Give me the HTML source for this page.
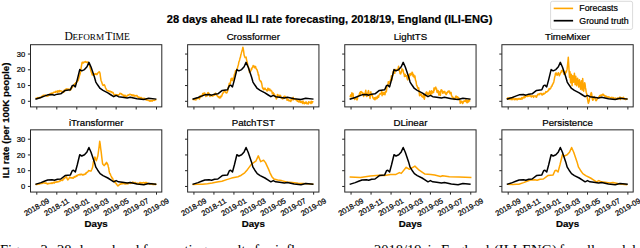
<!DOCTYPE html>
<html><head><meta charset="utf-8"><style>
html,body{margin:0;padding:0;background:#fff;width:640px;height:248px;overflow:hidden}
svg{display:block}
text{font-family:"Liberation Sans",sans-serif;fill:#000;stroke:#000;stroke-width:0.22px}
.tk{font-size:7.6px}
.t{font-size:9.7px}
.st{font-family:"Liberation Serif",serif;font-size:11.6px;stroke:none}
.al{font-size:9.7px;font-weight:bold}
.mt{font-size:11.1px;font-weight:bold}
.lg{font-size:8.8px}
.cap{font-family:"Liberation Serif",serif;font-size:14.5px;stroke:none}
</style></head><body>
<svg width="640" height="248" viewBox="0 0 640 248">
<clipPath id="c0"><rect x="30.50" y="44.70" width="131.3" height="62.2"/></clipPath>
<g clip-path="url(#c0)">
<polyline points="36.30,98.20 36.67,98.15 37.03,98.47 37.40,97.62 37.77,98.21 38.13,97.69 38.50,97.61 38.87,98.28 39.23,97.59 39.60,97.43 39.97,97.62 40.33,97.68 40.70,97.20 41.05,97.02 41.40,97.06 41.75,96.34 42.10,96.38 42.45,96.18 42.80,95.70 43.15,95.46 43.50,95.25 43.85,95.56 44.20,95.41 44.55,95.30 44.92,95.29 45.29,95.52 45.67,95.13 46.04,95.67 46.41,95.88 46.78,96.16 47.16,95.70 47.53,95.96 47.90,96.20 48.28,95.17 48.66,95.38 49.03,94.46 49.41,94.41 49.79,94.97 50.17,93.50 50.54,94.22 50.92,93.74 51.30,93.30 51.68,93.08 52.05,93.25 52.43,93.16 52.81,93.24 53.18,92.68 53.56,92.45 53.94,92.33 54.32,92.09 54.69,92.32 55.07,91.95 55.45,92.49 55.82,91.35 56.20,91.90 56.57,91.44 56.94,91.41 57.31,90.94 57.68,92.26 58.05,90.67 58.42,91.34 58.78,91.18 59.15,91.86 59.52,90.51 59.89,91.51 60.26,90.80 60.63,90.92 61.00,90.90 61.40,90.97 61.80,91.72 62.20,91.40 62.60,92.07 63.00,92.40 63.37,92.12 63.73,92.24 64.10,90.36 64.47,91.33 64.83,90.73 65.20,89.83 65.57,89.71 65.93,89.04 66.30,88.80 66.70,89.46 67.10,89.03 67.50,88.96 67.90,89.04 68.30,89.20 68.70,89.25 69.10,89.37 69.50,89.24 69.90,90.39 70.30,89.11 70.70,89.90 71.06,88.04 71.43,88.66 71.79,88.05 72.15,87.63 72.51,86.83 72.88,86.25 73.24,85.82 73.60,85.10 73.96,85.08 74.33,84.22 74.69,83.88 75.05,84.33 75.41,83.47 75.78,82.58 76.14,83.38 76.50,82.20 76.86,82.07 77.22,81.19 77.58,80.59 77.94,80.70 78.30,80.20 78.68,78.59 79.06,77.19 79.44,75.79 79.82,74.74 80.20,73.60 80.70,70.84 81.20,67.30 81.65,64.75 82.10,62.50 82.60,62.24 83.10,63.00 83.60,62.73 84.10,62.00 84.57,61.86 85.03,61.96 85.50,61.50 85.88,62.17 86.25,61.94 86.62,62.20 87.00,62.50 87.45,62.23 87.90,62.00 88.28,62.33 88.65,63.68 89.03,64.66 89.40,64.90 89.87,66.89 90.33,68.68 90.80,70.70 91.17,71.71 91.55,72.63 91.92,73.72 92.30,75.10 92.70,74.79 93.10,74.47 93.50,74.45 93.90,73.88 94.30,74.39 94.70,74.10 95.09,74.22 95.48,73.90 95.87,73.60 96.26,74.50 96.65,74.60 97.06,74.50 97.47,73.38 97.88,72.98 98.28,72.47 98.69,72.41 99.10,71.70 99.55,72.13 100.00,73.20 100.50,77.05 101.00,80.20 101.50,81.49 102.00,83.00 102.50,84.57 103.00,85.50 103.35,85.39 103.70,85.17 104.05,84.61 104.40,85.00 104.76,85.61 105.12,86.61 105.49,87.78 105.85,88.40 106.32,89.44 106.80,90.30 107.16,90.18 107.53,90.69 107.89,91.02 108.25,90.75 108.61,90.77 108.97,90.91 109.34,91.46 109.70,91.30 110.08,91.64 110.46,91.29 110.83,91.90 111.21,91.75 111.59,91.81 111.97,92.67 112.34,92.68 112.72,92.29 113.10,92.70 113.47,93.45 113.85,94.33 114.22,94.65 114.60,95.60 114.98,95.38 115.36,95.47 115.74,94.43 116.12,94.99 116.50,94.70 116.88,95.14 117.26,95.24 117.64,94.77 118.02,95.53 118.40,95.60 118.78,94.72 119.15,94.65 119.53,94.09 119.90,93.30 120.26,93.56 120.62,93.41 120.99,93.66 121.35,94.35 121.71,93.92 122.08,94.60 122.44,94.79 122.80,94.80 123.18,94.91 123.56,96.06 123.93,95.46 124.31,96.40 124.69,95.15 125.07,95.28 125.44,96.62 125.82,96.71 126.20,96.70 126.57,96.32 126.94,96.15 127.32,95.23 127.69,95.41 128.06,95.00 128.43,95.02 128.81,95.14 129.18,94.59 129.55,94.30 129.92,94.56 130.29,94.31 130.66,94.52 131.03,94.84 131.39,94.83 131.76,95.49 132.13,94.87 132.50,95.30 132.88,96.01 133.26,95.05 133.64,95.81 134.02,95.21 134.40,96.10 134.78,95.62 135.16,95.75 135.54,95.92 135.92,95.48 136.30,95.75 136.66,95.63 137.03,95.53 137.39,96.91 137.75,96.48 138.11,96.76 138.47,97.20 138.84,98.15 139.20,97.70 139.58,97.17 139.95,97.94 140.33,97.79 140.71,98.19 141.08,97.45 141.46,98.02 141.84,98.53 142.22,98.86 142.59,98.95 142.97,98.17 143.35,98.57 143.72,98.58 144.10,98.70 144.47,98.36 144.84,98.49 145.21,99.40 145.58,99.37 145.95,99.38 146.32,100.00 146.68,99.37 147.05,100.05 147.42,100.02 147.79,100.14 148.16,100.48 148.53,100.52 148.90,100.60 149.25,100.69 149.61,100.69 149.96,101.28 150.32,100.49 150.67,100.95 151.03,100.81 151.38,100.48 151.74,100.88 152.09,100.30 152.45,101.01 152.80,100.60 153.16,100.19 153.53,100.18 153.89,100.34 154.25,100.39 154.61,100.29 154.97,100.16 155.34,99.65 155.70,99.60" fill="none" stroke="#ffa500" stroke-width="1.5" stroke-linejoin="round" stroke-linecap="square"/>
<polyline points="36.09,99.02 40.93,97.45 44.33,96.15 47.73,94.85 52.03,94.55 54.48,95.15 57.38,94.15 60.73,93.85 65.13,90.45 70.43,89.75 72.23,85.65 73.53,85.15 75.33,86.85 77.23,79.85 79.73,69.60 81.73,70.85 84.48,69.60 86.98,66.75 88.93,62.35 91.03,67.05 94.33,76.75 95.83,82.05 97.73,85.05 100.13,88.45 103.03,90.40 107.83,92.85 110.73,94.75 113.73,96.65 116.13,95.45 118.53,96.65 122.43,97.15 127.23,97.95 130.23,97.35 137.03,98.85 143.83,99.50 148.63,98.35 155.63,99.05" fill="none" stroke="#000000" stroke-width="1.5" stroke-linejoin="round" stroke-linecap="square"/>
</g>
<rect x="30.50" y="44.70" width="131.3" height="62.2" fill="none" stroke="#262626" stroke-width="1.0"/>
<line x1="27.90" y1="101.30" x2="30.50" y2="101.30" stroke="#262626" stroke-width="1"/>
<text x="25.30" y="103.90" class="tk" text-anchor="end">0</text>
<line x1="27.90" y1="85.55" x2="30.50" y2="85.55" stroke="#262626" stroke-width="1"/>
<text x="25.30" y="88.15" class="tk" text-anchor="end">10</text>
<line x1="27.90" y1="69.80" x2="30.50" y2="69.80" stroke="#262626" stroke-width="1"/>
<text x="25.30" y="72.40" class="tk" text-anchor="end">20</text>
<line x1="27.90" y1="54.05" x2="30.50" y2="54.05" stroke="#262626" stroke-width="1"/>
<text x="25.30" y="56.65" class="tk" text-anchor="end">30</text>
<line x1="36.80" y1="106.90" x2="36.80" y2="109.50" stroke="#262626" stroke-width="1"/>
<line x1="56.80" y1="106.90" x2="56.80" y2="109.50" stroke="#262626" stroke-width="1"/>
<line x1="76.80" y1="106.90" x2="76.80" y2="109.50" stroke="#262626" stroke-width="1"/>
<line x1="96.15" y1="106.90" x2="96.15" y2="109.50" stroke="#262626" stroke-width="1"/>
<line x1="116.15" y1="106.90" x2="116.15" y2="109.50" stroke="#262626" stroke-width="1"/>
<line x1="136.20" y1="106.90" x2="136.20" y2="109.50" stroke="#262626" stroke-width="1"/>
<line x1="156.50" y1="106.90" x2="156.50" y2="109.50" stroke="#262626" stroke-width="1"/>
<text y="39.8" class="st"><tspan x="64.4">D</tspan><tspan x="72.5" font-size="9.2">EFORM</tspan><tspan x="105.2">T</tspan><tspan x="112.4" font-size="9.5">IME</tspan></text>
<clipPath id="c1"><rect x="187.63" y="44.70" width="131.3" height="62.2"/></clipPath>
<g clip-path="url(#c1)">
<polyline points="193.30,99.40 193.67,99.36 194.03,99.60 194.40,98.83 194.77,99.36 195.13,99.72 195.50,99.26 195.87,100.05 196.23,98.14 196.60,98.78 196.97,98.12 197.33,97.99 197.70,98.50 198.05,98.13 198.40,98.21 198.75,98.13 199.10,97.97 199.45,99.04 199.80,97.78 200.15,95.71 200.50,96.84 200.85,95.99 201.20,95.84 201.55,96.00 201.92,96.66 202.29,95.19 202.67,93.57 203.04,94.94 203.41,94.17 203.78,93.19 204.16,93.05 204.53,92.95 204.90,93.10 205.40,94.78 205.90,96.50 206.30,95.53 206.70,95.25 207.10,95.93 207.50,93.30 207.90,92.64 208.30,92.60 208.70,93.09 209.10,94.78 209.50,94.11 209.90,96.40 210.30,96.00 210.66,94.96 211.03,95.11 211.39,95.79 211.75,95.13 212.11,95.25 212.47,96.00 212.84,96.15 213.20,95.55 213.60,95.23 214.00,94.53 214.40,95.33 214.80,94.22 215.20,93.33 215.60,93.10 216.07,94.83 216.53,94.06 217.00,95.55 217.36,96.02 217.71,96.74 218.07,96.59 218.43,96.52 218.79,97.56 219.14,97.24 219.50,98.00 219.88,97.15 220.26,96.43 220.64,97.78 221.02,95.99 221.40,96.00 221.78,96.11 222.16,94.77 222.54,93.52 222.92,93.46 223.30,92.20 223.68,92.15 224.05,91.80 224.43,90.42 224.80,91.20 225.18,91.53 225.56,92.43 225.94,92.41 226.32,93.07 226.70,92.60 227.07,92.65 227.43,90.77 227.80,90.88 228.17,87.20 228.53,87.09 228.90,86.20 229.26,83.31 229.62,84.82 229.99,83.27 230.35,83.47 230.71,80.93 231.07,78.68 231.44,80.16 231.80,78.20 232.30,78.44 232.80,80.70 233.18,78.37 233.56,77.81 233.94,77.03 234.32,74.80 234.70,73.80 235.08,73.17 235.47,70.86 235.85,72.80 236.23,70.68 236.62,70.06 237.00,69.20 237.38,68.39 237.75,66.83 238.12,65.60 238.50,64.20 238.88,61.98 239.25,61.07 239.62,59.95 240.00,58.10 240.40,57.38 240.80,55.01 241.20,53.67 241.60,52.10 242.03,50.72 242.47,49.26 242.90,47.20 243.60,51.00 244.10,55.10 244.60,56.51 245.10,57.60 245.60,57.16 246.10,57.10 246.60,60.10 247.10,61.77 247.60,64.20 247.97,66.29 248.35,66.92 248.72,67.97 249.10,69.20 249.47,72.31 249.85,70.86 250.22,71.34 250.60,71.20 250.96,70.51 251.31,68.84 251.67,69.65 252.03,67.93 252.39,67.24 252.74,67.17 253.10,65.60 253.45,66.53 253.80,66.11 254.15,66.11 254.50,67.84 254.85,66.86 255.20,66.60 255.60,66.55 256.00,68.60 256.40,68.87 256.80,69.50 257.20,70.20 257.57,71.84 257.95,72.63 258.32,75.08 258.70,74.70 259.40,79.60 259.76,80.13 260.12,80.54 260.49,81.60 260.85,81.10 261.32,82.13 261.80,84.00 262.30,86.96 262.80,88.40 263.18,88.53 263.56,89.65 263.94,88.30 264.32,89.43 264.70,89.30 265.10,88.20 265.50,89.17 265.90,89.61 266.30,90.07 266.70,89.80 267.08,91.08 267.46,90.78 267.84,88.20 268.22,88.43 268.60,88.80 268.98,90.14 269.36,89.93 269.74,88.98 270.12,90.76 270.50,90.80 270.86,90.21 271.21,90.67 271.57,90.63 271.93,91.63 272.29,93.77 272.64,92.63 273.00,92.60 273.36,93.02 273.73,95.48 274.09,93.75 274.45,94.60 274.84,95.35 275.23,96.12 275.62,97.50 276.01,97.81 276.40,98.90 276.90,97.84 277.40,94.60 277.80,94.70 278.20,95.65 278.60,95.72 279.00,95.22 279.40,95.45 279.80,96.50 280.16,96.76 280.52,95.38 280.89,97.41 281.25,97.76 281.61,98.11 281.98,98.24 282.34,98.87 282.70,98.90 283.10,98.24 283.50,98.58 283.90,96.48 284.30,97.98 284.70,96.24 285.10,96.50 285.50,97.43 285.90,97.29 286.30,97.88 286.70,98.17 287.10,100.34 287.50,99.90 287.86,99.27 288.23,99.37 288.59,100.63 288.95,100.85 289.31,100.87 289.68,100.30 290.04,100.73 290.40,101.40 290.80,101.51 291.20,99.50 291.60,100.16 292.00,99.68 292.40,98.67 292.80,98.00 293.18,97.30 293.56,99.85 293.93,98.73 294.31,98.99 294.69,98.78 295.07,98.56 295.44,99.28 295.82,99.84 296.20,99.90 296.55,99.44 296.91,100.33 297.26,101.28 297.62,100.92 297.97,100.69 298.33,101.72 298.68,101.80 299.04,101.96 299.39,100.86 299.75,100.27 300.10,101.80 300.45,102.44 300.81,101.94 301.16,101.66 301.52,102.35 301.87,101.69 302.23,101.61 302.58,103.47 302.94,100.98 303.29,102.84 303.65,103.01 304.00,102.30 304.36,103.81 304.73,102.87 305.09,103.24 305.45,102.37 305.81,103.26 306.18,101.86 306.54,103.19 306.90,103.80 307.26,103.59 307.62,103.35 307.99,102.88 308.35,103.92 308.71,101.68 309.07,102.78 309.44,102.19 309.80,102.30 310.16,102.27 310.52,102.22 310.89,103.57 311.25,101.25 311.61,102.99 311.98,102.97 312.34,101.77 312.70,101.80" fill="none" stroke="#ffa500" stroke-width="1.5" stroke-linejoin="round" stroke-linecap="square"/>
<polyline points="193.22,99.02 198.06,97.45 201.46,96.15 204.86,94.85 209.16,94.55 211.61,95.15 214.51,94.15 217.86,93.85 222.26,90.45 227.56,89.75 229.36,85.65 230.66,85.15 232.46,86.85 234.36,79.85 236.86,69.60 238.86,70.85 241.61,69.60 244.11,66.75 246.06,62.35 248.16,67.05 251.46,76.75 252.96,82.05 254.86,85.05 257.26,88.45 260.16,90.40 264.96,92.85 267.86,94.75 270.86,96.65 273.26,95.45 275.66,96.65 279.56,97.15 284.36,97.95 287.36,97.35 294.16,98.85 300.96,99.50 305.76,98.35 312.76,99.05" fill="none" stroke="#000000" stroke-width="1.5" stroke-linejoin="round" stroke-linecap="square"/>
</g>
<rect x="187.63" y="44.70" width="131.3" height="62.2" fill="none" stroke="#262626" stroke-width="1.0"/>
<line x1="185.03" y1="101.30" x2="187.63" y2="101.30" stroke="#262626" stroke-width="1"/>
<line x1="185.03" y1="85.55" x2="187.63" y2="85.55" stroke="#262626" stroke-width="1"/>
<line x1="185.03" y1="69.80" x2="187.63" y2="69.80" stroke="#262626" stroke-width="1"/>
<line x1="185.03" y1="54.05" x2="187.63" y2="54.05" stroke="#262626" stroke-width="1"/>
<line x1="193.93" y1="106.90" x2="193.93" y2="109.50" stroke="#262626" stroke-width="1"/>
<line x1="213.93" y1="106.90" x2="213.93" y2="109.50" stroke="#262626" stroke-width="1"/>
<line x1="233.93" y1="106.90" x2="233.93" y2="109.50" stroke="#262626" stroke-width="1"/>
<line x1="253.28" y1="106.90" x2="253.28" y2="109.50" stroke="#262626" stroke-width="1"/>
<line x1="273.28" y1="106.90" x2="273.28" y2="109.50" stroke="#262626" stroke-width="1"/>
<line x1="293.33" y1="106.90" x2="293.33" y2="109.50" stroke="#262626" stroke-width="1"/>
<line x1="313.63" y1="106.90" x2="313.63" y2="109.50" stroke="#262626" stroke-width="1"/>
<text x="253.28" y="40.40" class="t" text-anchor="middle">Crossformer</text>
<clipPath id="c2"><rect x="344.76" y="44.70" width="131.3" height="62.2"/></clipPath>
<g clip-path="url(#c2)">
<polyline points="350.29,96.50 350.69,94.84 351.09,94.68 351.49,96.77 351.89,92.87 352.29,95.55 352.67,95.76 353.05,93.51 353.43,98.10 353.81,97.36 354.19,97.50 354.57,99.48 354.95,97.43 355.33,98.84 355.71,98.26 356.09,98.90 356.59,98.48 357.09,99.90 357.46,98.99 357.84,96.15 358.21,96.19 358.59,95.55 358.97,95.65 359.35,94.08 359.73,92.73 360.11,95.21 360.49,91.70 360.87,92.05 361.25,91.53 361.63,92.74 362.01,92.17 362.39,93.10 362.79,92.92 363.19,93.26 363.59,96.53 363.99,94.33 364.39,94.60 364.86,93.35 365.32,92.51 365.79,90.20 366.29,95.87 366.79,96.50 367.14,94.90 367.49,93.07 367.84,95.62 368.19,91.20 368.56,90.58 368.94,93.14 369.31,95.63 369.69,96.00 370.07,98.47 370.45,94.05 370.83,91.83 371.21,95.31 371.59,94.10 371.99,94.41 372.39,95.54 372.79,97.56 373.19,98.22 373.59,98.90 373.97,98.98 374.35,97.80 374.73,99.67 375.11,99.66 375.49,97.50 375.87,97.64 376.25,97.14 376.63,98.72 377.01,98.50 377.39,98.00 377.79,96.02 378.19,96.06 378.59,97.27 378.99,95.16 379.39,94.60 379.77,93.89 380.15,94.27 380.53,93.66 380.91,93.40 381.29,93.10 381.69,90.89 382.09,95.69 382.49,93.95 382.89,93.90 383.24,92.47 383.59,94.45 383.94,93.27 384.29,92.57 384.64,93.52 384.99,94.70 385.34,92.23 385.69,91.20 386.06,91.98 386.42,91.50 386.79,87.60 387.17,85.36 387.55,85.03 387.93,85.69 388.31,81.63 388.69,82.80 389.07,81.89 389.45,83.26 389.83,82.36 390.21,81.20 390.59,79.90 391.09,79.00 391.45,75.69 391.80,80.05 392.16,76.86 392.52,76.19 392.88,74.90 393.23,71.20 393.59,72.40 393.97,70.13 394.35,69.92 394.73,73.36 395.11,69.44 395.49,70.00 395.87,69.60 396.25,69.48 396.63,70.41 397.01,70.23 397.39,69.50 397.79,70.03 398.19,68.32 398.59,66.18 398.99,70.51 399.39,70.50 399.74,71.68 400.09,73.74 400.44,72.92 400.79,73.90 401.16,72.04 401.54,72.21 401.91,68.66 402.29,69.50 402.76,69.50 403.22,70.84 403.69,73.40 404.06,74.01 404.44,76.51 404.81,75.10 405.19,74.40 405.66,76.29 406.12,75.63 406.59,75.80 407.09,78.20 407.59,79.90 407.94,78.84 408.29,78.55 408.64,75.36 408.99,77.90 409.37,75.27 409.74,74.04 410.12,75.57 410.49,73.40 410.87,74.03 411.25,74.43 411.63,74.75 412.01,72.22 412.39,72.40 412.76,74.44 413.14,76.29 413.51,74.56 413.89,75.30 414.24,77.58 414.59,76.94 414.94,76.06 415.29,79.00 415.66,80.83 416.04,81.32 416.41,84.16 416.79,85.70 417.26,86.09 417.72,88.03 418.19,88.60 418.69,87.88 419.19,92.50 419.56,95.71 419.94,95.40 420.31,93.86 420.69,94.90 421.07,94.04 421.45,95.46 421.83,96.58 422.21,96.55 422.59,96.30 422.94,97.30 423.29,94.84 423.64,96.39 423.99,98.30 424.37,99.25 424.74,97.15 425.12,94.22 425.49,95.40 425.87,93.59 426.24,92.14 426.62,91.95 426.99,92.50 427.49,94.50 427.99,93.55 428.39,93.11 428.79,94.65 429.19,93.31 429.59,91.02 429.99,91.94 430.39,92.60 430.79,95.34 431.19,91.30 431.59,90.77 431.99,93.50 432.39,91.88 432.79,91.60 433.19,91.11 433.59,92.51 433.99,87.92 434.39,90.21 434.79,89.20 435.26,87.69 435.72,87.08 436.19,88.70 436.56,88.64 436.94,92.12 437.31,91.45 437.69,92.60 438.07,90.45 438.45,91.57 438.83,95.12 439.21,94.67 439.59,93.55 439.99,91.60 440.39,95.53 440.79,91.41 441.19,89.79 441.59,90.58 441.99,90.20 442.39,91.88 442.79,93.22 443.19,92.95 443.59,91.57 443.99,92.60 444.39,92.20 444.79,91.37 445.19,93.46 445.59,93.10 445.99,94.50 446.39,94.50 446.79,92.48 447.19,93.04 447.59,92.17 447.99,91.36 448.39,90.99 448.79,92.10 449.17,91.09 449.55,91.17 449.93,93.70 450.31,93.39 450.69,93.55 451.09,92.53 451.49,95.55 451.89,95.93 452.29,98.10 452.69,96.90 453.04,97.28 453.39,97.88 453.74,97.89 454.09,99.40 454.49,98.88 454.89,98.67 455.29,97.58 455.69,96.36 456.09,96.00 456.47,97.20 456.85,97.08 457.23,97.76 457.61,96.73 457.99,98.40 458.37,99.04 458.75,97.89 459.13,98.46 459.51,100.13 459.89,100.30 460.29,103.29 460.69,102.17 461.09,101.21 461.49,101.27 461.89,101.80 462.25,103.00 462.62,103.44 462.98,103.17 463.34,101.31 463.70,101.73 464.06,101.00 464.43,101.00 464.79,101.30 465.17,100.41 465.55,101.38 465.93,99.15 466.31,100.57 466.69,102.30 467.05,102.66 467.41,100.74 467.78,102.43 468.14,99.90 468.50,100.89 468.87,101.68 469.23,99.66 469.59,100.80" fill="none" stroke="#ffa500" stroke-width="1.5" stroke-linejoin="round" stroke-linecap="square"/>
<polyline points="350.35,99.02 355.19,97.45 358.59,96.15 361.99,94.85 366.29,94.55 368.74,95.15 371.64,94.15 374.99,93.85 379.39,90.45 384.69,89.75 386.49,85.65 387.79,85.15 389.59,86.85 391.49,79.85 393.99,69.60 395.99,70.85 398.74,69.60 401.24,66.75 403.19,62.35 405.29,67.05 408.59,76.75 410.09,82.05 411.99,85.05 414.39,88.45 417.29,90.40 422.09,92.85 424.99,94.75 427.99,96.65 430.39,95.45 432.79,96.65 436.69,97.15 441.49,97.95 444.49,97.35 451.29,98.85 458.09,99.50 462.89,98.35 469.89,99.05" fill="none" stroke="#000000" stroke-width="1.5" stroke-linejoin="round" stroke-linecap="square"/>
</g>
<rect x="344.76" y="44.70" width="131.3" height="62.2" fill="none" stroke="#262626" stroke-width="1.0"/>
<line x1="342.16" y1="101.30" x2="344.76" y2="101.30" stroke="#262626" stroke-width="1"/>
<line x1="342.16" y1="85.55" x2="344.76" y2="85.55" stroke="#262626" stroke-width="1"/>
<line x1="342.16" y1="69.80" x2="344.76" y2="69.80" stroke="#262626" stroke-width="1"/>
<line x1="342.16" y1="54.05" x2="344.76" y2="54.05" stroke="#262626" stroke-width="1"/>
<line x1="351.06" y1="106.90" x2="351.06" y2="109.50" stroke="#262626" stroke-width="1"/>
<line x1="371.06" y1="106.90" x2="371.06" y2="109.50" stroke="#262626" stroke-width="1"/>
<line x1="391.06" y1="106.90" x2="391.06" y2="109.50" stroke="#262626" stroke-width="1"/>
<line x1="410.41" y1="106.90" x2="410.41" y2="109.50" stroke="#262626" stroke-width="1"/>
<line x1="430.41" y1="106.90" x2="430.41" y2="109.50" stroke="#262626" stroke-width="1"/>
<line x1="450.46" y1="106.90" x2="450.46" y2="109.50" stroke="#262626" stroke-width="1"/>
<line x1="470.76" y1="106.90" x2="470.76" y2="109.50" stroke="#262626" stroke-width="1"/>
<text x="410.41" y="40.40" class="t" text-anchor="middle">LightTS</text>
<clipPath id="c3"><rect x="501.89" y="44.70" width="131.3" height="62.2"/></clipPath>
<g clip-path="url(#c3)">
<polyline points="507.29,98.50 507.66,98.78 508.02,97.67 508.39,98.21 508.76,98.67 509.12,99.40 509.49,98.70 509.86,97.90 510.22,98.92 510.59,98.20 510.96,99.45 511.32,98.74 511.69,98.90 512.06,99.81 512.43,98.88 512.80,98.46 513.17,98.26 513.54,98.83 513.91,99.26 514.27,99.66 514.64,99.22 515.01,98.74 515.38,99.38 515.75,98.44 516.12,99.43 516.49,99.20 516.84,98.77 517.19,99.85 517.54,99.55 517.89,99.18 518.24,98.44 518.59,99.18 518.94,99.03 519.29,98.53 519.64,98.44 519.99,99.34 520.34,98.45 520.69,98.82 521.04,99.25 521.39,98.50 521.77,97.61 522.15,99.09 522.53,98.56 522.91,97.58 523.29,97.27 523.67,96.99 524.05,97.92 524.43,96.01 524.81,97.62 525.19,97.00 525.55,96.90 525.91,96.30 526.28,96.20 526.64,96.09 527.00,95.98 527.37,96.36 527.73,95.31 528.09,95.55 528.45,96.15 528.81,96.16 529.18,95.59 529.54,96.08 529.90,95.56 530.26,95.92 530.63,96.19 530.99,96.00 531.35,97.03 531.72,96.10 532.08,96.11 532.44,96.27 532.80,96.22 533.16,95.84 533.53,97.38 533.89,96.50 534.29,96.09 534.69,96.01 535.09,95.84 535.49,96.45 535.89,96.00 536.25,97.25 536.62,97.04 536.98,95.78 537.34,95.22 537.70,94.80 538.06,94.07 538.43,94.71 538.79,94.10 539.19,93.82 539.59,94.68 539.99,93.40 540.37,93.56 540.75,93.50 541.13,93.38 541.51,93.71 541.89,94.90 542.25,95.02 542.62,94.70 542.98,93.76 543.34,93.38 543.70,94.10 544.06,93.60 544.43,93.70 544.79,93.40 545.15,93.09 545.51,92.41 545.88,91.63 546.24,92.27 546.60,91.95 546.97,91.69 547.33,91.78 547.69,91.00 548.05,91.10 548.41,90.03 548.78,90.21 549.14,88.46 549.50,89.53 549.87,88.81 550.23,88.98 550.59,88.10 550.96,87.94 551.33,86.30 551.70,86.05 552.06,86.01 552.43,84.51 552.80,84.16 553.17,83.16 553.54,82.80 553.90,81.40 554.26,79.55 554.63,77.28 554.99,76.00 555.49,73.30 555.87,72.96 556.25,72.94 556.63,74.87 557.01,74.59 557.39,75.20 557.89,73.60 558.39,72.70 558.89,73.94 559.39,75.70 559.86,74.10 560.32,73.78 560.79,72.30 561.17,72.24 561.55,70.41 561.93,71.15 562.31,70.83 562.69,70.40 563.06,71.21 563.44,72.40 563.81,74.17 564.19,74.30 564.55,74.09 564.91,74.16 565.28,73.69 565.64,72.80 566.00,71.19 566.37,72.00 566.73,70.36 567.09,69.40 567.49,65.22 567.89,61.76 568.29,57.30 568.99,69.40 569.49,77.50 569.99,71.70 570.59,82.70 570.94,79.59 571.29,74.20 571.69,79.50 572.09,85.60 572.69,75.70 573.14,78.61 573.59,82.20 573.99,77.88 574.39,73.20 574.74,78.00 575.09,84.60 575.44,79.84 575.79,76.20 576.19,80.98 576.59,85.70 577.09,82.33 577.59,78.20 577.96,81.45 578.32,84.56 578.69,87.10 579.04,83.95 579.39,79.70 579.79,82.65 580.19,85.86 580.59,89.20 580.99,84.79 581.39,80.70 581.79,85.24 582.19,90.10 582.69,78.60 583.19,85.47 583.69,91.20 584.19,87.39 584.69,82.70 585.06,84.03 585.44,87.70 585.81,89.29 586.19,92.20 586.56,93.24 586.94,95.40 587.30,98.01 587.66,99.98 588.03,101.85 588.39,103.20 588.76,102.10 589.14,101.23 589.51,98.27 589.89,97.40 590.24,96.63 590.59,94.66 590.94,93.49 591.29,92.60 591.66,93.69 592.04,97.23 592.41,99.28 592.79,100.30 593.26,99.49 593.72,97.47 594.19,96.50 594.56,97.55 594.94,97.86 595.31,99.22 595.69,100.30 596.07,100.70 596.45,100.37 596.83,99.51 597.21,99.19 597.59,98.40 597.99,97.86 598.39,97.63 598.79,96.87 599.19,96.72 599.59,95.67 599.99,95.50 600.35,95.89 600.71,95.14 601.08,95.24 601.44,94.94 601.80,95.67 602.16,95.22 602.53,94.23 602.89,94.50 603.25,94.24 603.60,95.23 603.96,95.21 604.32,95.24 604.68,95.69 605.03,96.64 605.39,96.00 605.75,96.14 606.12,97.09 606.48,96.28 606.84,96.59 607.20,97.04 607.57,97.02 607.93,96.98 608.29,97.40 608.67,96.87 609.05,97.24 609.43,97.20 609.81,97.41 610.19,97.94 610.57,97.67 610.95,98.00 611.33,97.52 611.71,97.64 612.09,97.40 612.45,97.85 612.81,98.03 613.18,98.30 613.54,97.63 613.90,98.25 614.26,98.26 614.63,98.91 614.99,98.40 615.34,98.84 615.70,98.12 616.05,98.63 616.41,98.77 616.76,98.44 617.12,99.05 617.47,98.55 617.83,97.77 618.18,98.57 618.54,98.81 618.89,98.40 619.24,98.00 619.60,98.77 619.95,97.01 620.31,99.44 620.66,97.70 621.02,98.17 621.37,98.25 621.73,97.70 622.08,98.56 622.44,97.95 622.79,98.40 623.14,97.77 623.50,97.33 623.85,98.90 624.21,99.18 624.56,98.49 624.92,98.79 625.27,99.54 625.63,98.97 625.98,99.40 626.34,99.37 626.69,98.90" fill="none" stroke="#ffa500" stroke-width="1.5" stroke-linejoin="round" stroke-linecap="square"/>
<polyline points="507.48,99.02 512.32,97.45 515.72,96.15 519.12,94.85 523.42,94.55 525.87,95.15 528.77,94.15 532.12,93.85 536.52,90.45 541.82,89.75 543.62,85.65 544.92,85.15 546.72,86.85 548.62,79.85 551.12,69.60 553.12,70.85 555.87,69.60 558.37,66.75 560.32,62.35 562.42,67.05 565.72,76.75 567.22,82.05 569.12,85.05 571.52,88.45 574.42,90.40 579.22,92.85 582.12,94.75 585.12,96.65 587.52,95.45 589.92,96.65 593.82,97.15 598.62,97.95 601.62,97.35 608.42,98.85 615.22,99.50 620.02,98.35 627.02,99.05" fill="none" stroke="#000000" stroke-width="1.5" stroke-linejoin="round" stroke-linecap="square"/>
</g>
<rect x="501.89" y="44.70" width="131.3" height="62.2" fill="none" stroke="#262626" stroke-width="1.0"/>
<line x1="499.29" y1="101.30" x2="501.89" y2="101.30" stroke="#262626" stroke-width="1"/>
<line x1="499.29" y1="85.55" x2="501.89" y2="85.55" stroke="#262626" stroke-width="1"/>
<line x1="499.29" y1="69.80" x2="501.89" y2="69.80" stroke="#262626" stroke-width="1"/>
<line x1="499.29" y1="54.05" x2="501.89" y2="54.05" stroke="#262626" stroke-width="1"/>
<line x1="508.19" y1="106.90" x2="508.19" y2="109.50" stroke="#262626" stroke-width="1"/>
<line x1="528.19" y1="106.90" x2="528.19" y2="109.50" stroke="#262626" stroke-width="1"/>
<line x1="548.19" y1="106.90" x2="548.19" y2="109.50" stroke="#262626" stroke-width="1"/>
<line x1="567.54" y1="106.90" x2="567.54" y2="109.50" stroke="#262626" stroke-width="1"/>
<line x1="587.54" y1="106.90" x2="587.54" y2="109.50" stroke="#262626" stroke-width="1"/>
<line x1="607.59" y1="106.90" x2="607.59" y2="109.50" stroke="#262626" stroke-width="1"/>
<line x1="627.89" y1="106.90" x2="627.89" y2="109.50" stroke="#262626" stroke-width="1"/>
<text x="567.54" y="40.40" class="t" text-anchor="middle">TimeMixer</text>
<clipPath id="c4"><rect x="30.50" y="129.85" width="131.3" height="62.2"/></clipPath>
<g clip-path="url(#c4)">
<polyline points="36.30,184.40 36.67,184.24 37.03,184.40 37.40,184.09 37.77,183.99 38.13,183.73 38.50,183.86 38.87,184.18 39.23,183.89 39.60,184.00 39.97,183.68 40.33,183.65 40.70,183.45 41.05,183.46 41.40,182.86 41.75,183.57 42.10,183.42 42.45,183.37 42.80,182.67 43.15,182.61 43.50,182.82 43.85,182.90 44.20,183.09 44.55,182.95 44.94,183.01 45.32,183.25 45.70,182.97 46.09,183.32 46.48,183.42 46.86,183.17 47.24,183.96 47.63,183.68 48.02,183.94 48.40,183.65 48.75,183.41 49.10,183.33 49.45,183.40 49.80,183.42 50.15,183.59 50.50,183.42 50.85,183.17 51.20,182.96 51.55,183.04 51.90,183.52 52.25,182.86 52.60,183.12 52.95,183.13 53.30,182.95 53.67,182.40 54.04,182.75 54.41,183.02 54.78,181.91 55.15,182.32 55.52,182.27 55.88,181.95 56.25,182.24 56.62,181.96 56.99,181.43 57.36,182.01 57.73,181.86 58.10,181.55 58.47,181.72 58.84,181.75 59.21,181.31 59.58,181.12 59.95,180.58 60.32,181.04 60.68,180.56 61.05,180.49 61.42,180.13 61.79,180.11 62.16,180.12 62.53,180.55 62.90,180.05 63.30,178.96 63.70,178.65 64.10,178.68 64.50,178.56 64.90,177.65 65.37,177.66 65.83,176.75 66.30,177.15 66.67,177.12 67.05,178.71 67.42,179.10 67.80,180.05 68.18,179.13 68.56,179.18 68.94,178.64 69.32,177.78 69.70,177.15 70.06,177.35 70.43,177.53 70.79,178.00 71.15,177.84 71.51,177.93 71.88,178.06 72.24,177.55 72.60,178.15 72.96,178.35 73.33,178.06 73.69,177.75 74.05,176.81 74.41,177.02 74.78,177.28 75.14,176.29 75.50,176.65 75.86,176.36 76.22,176.48 76.59,175.54 76.95,176.18 77.31,175.63 77.67,175.18 78.04,175.08 78.40,174.75 78.77,174.87 79.14,174.64 79.51,174.88 79.89,174.27 80.26,174.27 80.63,174.63 81.00,174.25 81.39,174.34 81.77,174.16 82.16,174.79 82.54,175.03 82.93,174.55 83.31,174.35 83.70,174.85 84.06,174.57 84.43,174.33 84.79,174.05 85.15,174.32 85.51,173.35 85.88,173.80 86.24,172.81 86.60,172.95 87.00,172.23 87.40,172.18 87.80,171.85 88.20,171.29 88.60,170.55 89.00,170.74 89.40,170.76 89.80,170.85 90.20,171.06 90.60,170.91 91.00,171.05 91.38,170.28 91.75,169.52 92.12,168.50 92.50,167.65 92.95,164.98 93.40,161.85 93.78,160.79 94.15,160.00 94.53,158.27 94.90,156.95 95.37,158.12 95.83,159.44 96.30,160.85 96.67,159.65 97.05,158.73 97.42,157.15 97.80,156.05 98.28,152.87 98.75,149.45 99.22,145.90 99.70,141.25 100.20,144.13 100.70,148.55 101.18,151.96 101.65,156.05 102.12,159.97 102.60,163.75 102.97,164.34 103.35,164.77 103.72,165.05 104.10,165.65 104.50,165.30 104.90,164.63 105.30,163.84 105.70,164.18 106.10,163.01 106.50,162.35 106.85,162.78 107.20,163.52 107.55,164.08 107.90,164.75 108.28,166.66 108.65,167.78 109.03,170.38 109.40,172.45 109.78,173.53 110.16,173.66 110.54,174.77 110.92,175.86 111.30,176.35 111.70,177.35 112.10,178.28 112.50,178.06 112.90,179.20 113.30,180.05 113.69,180.44 114.07,181.22 114.46,181.86 114.84,181.22 115.23,182.84 115.61,182.57 116.00,183.50 116.38,184.18 116.76,184.01 117.14,184.99 117.52,185.78 117.90,185.90 118.28,185.51 118.65,185.26 119.03,185.09 119.40,184.50 119.80,184.29 120.20,183.97 120.60,184.21 121.00,183.81 121.40,183.16 121.80,183.00 122.15,183.91 122.51,182.84 122.86,183.55 123.22,183.28 123.57,183.49 123.93,183.76 124.28,183.70 124.64,183.92 124.99,183.36 125.35,183.46 125.70,184.00 126.09,184.08 126.47,183.51 126.86,183.39 127.24,183.16 127.62,183.88 128.01,183.62 128.39,183.74 128.78,182.92 129.16,183.10 129.55,183.00 129.91,182.62 130.28,183.15 130.64,183.35 131.00,182.57 131.36,183.26 131.72,183.05 132.09,182.65 132.45,182.08 132.81,183.05 133.18,182.55 133.54,182.36 133.90,182.50 134.27,182.70 134.63,182.79 135.00,183.20 135.37,182.53 135.73,183.26 136.10,183.45 136.47,183.52 136.83,183.11 137.20,183.03 137.57,183.64 137.93,183.45 138.30,183.50 138.65,183.47 139.01,183.79 139.36,183.22 139.71,182.54 140.07,183.05 140.42,182.54 140.77,183.28 141.13,183.06 141.48,182.72 141.83,182.83 142.19,183.02 142.54,182.72 142.89,183.03 143.25,182.55 143.60,182.50 143.97,182.90 144.33,183.11 144.70,183.23 145.07,182.63 145.43,183.18 145.80,182.44 146.17,182.76 146.53,182.58 146.90,183.57 147.27,182.96 147.63,183.41 148.00,183.50 148.35,183.49 148.70,183.58 149.05,183.46 149.40,183.75 149.75,184.26 150.10,183.79 150.45,183.98 150.80,184.16 151.15,183.85 151.50,183.58 151.85,183.83 152.20,184.37 152.55,183.60 152.90,183.96 153.25,184.48 153.60,184.47 153.95,184.28 154.30,184.56 154.65,184.41 155.00,184.06 155.35,183.99 155.70,184.50" fill="none" stroke="#ffa500" stroke-width="1.5" stroke-linejoin="round" stroke-linecap="square"/>
<polyline points="36.09,184.17 40.93,182.60 44.33,181.30 47.73,180.00 52.03,179.70 54.48,180.30 57.38,179.30 60.73,179.00 65.13,175.60 70.43,174.90 72.23,170.80 73.53,170.30 75.33,172.00 77.23,165.00 79.73,154.75 81.73,156.00 84.48,154.75 86.98,151.90 88.93,147.50 91.03,152.20 94.33,161.90 95.83,167.20 97.73,170.20 100.13,173.60 103.03,175.55 107.83,178.00 110.73,179.90 113.73,181.80 116.13,180.60 118.53,181.80 122.43,182.30 127.23,183.10 130.23,182.50 137.03,184.00 143.83,184.65 148.63,183.50 155.63,184.20" fill="none" stroke="#000000" stroke-width="1.5" stroke-linejoin="round" stroke-linecap="square"/>
</g>
<rect x="30.50" y="129.85" width="131.3" height="62.2" fill="none" stroke="#262626" stroke-width="1.0"/>
<line x1="27.90" y1="186.45" x2="30.50" y2="186.45" stroke="#262626" stroke-width="1"/>
<text x="25.30" y="189.05" class="tk" text-anchor="end">0</text>
<line x1="27.90" y1="170.70" x2="30.50" y2="170.70" stroke="#262626" stroke-width="1"/>
<text x="25.30" y="173.30" class="tk" text-anchor="end">10</text>
<line x1="27.90" y1="154.95" x2="30.50" y2="154.95" stroke="#262626" stroke-width="1"/>
<text x="25.30" y="157.55" class="tk" text-anchor="end">20</text>
<line x1="27.90" y1="139.20" x2="30.50" y2="139.20" stroke="#262626" stroke-width="1"/>
<text x="25.30" y="141.80" class="tk" text-anchor="end">30</text>
<line x1="36.80" y1="192.05" x2="36.80" y2="194.65" stroke="#262626" stroke-width="1"/>
<text class="tk" text-anchor="middle" transform="translate(37.95,209.30) rotate(-30)">2018-09</text>
<line x1="56.80" y1="192.05" x2="56.80" y2="194.65" stroke="#262626" stroke-width="1"/>
<text class="tk" text-anchor="middle" transform="translate(57.95,209.30) rotate(-30)">2018-11</text>
<line x1="76.80" y1="192.05" x2="76.80" y2="194.65" stroke="#262626" stroke-width="1"/>
<text class="tk" text-anchor="middle" transform="translate(77.95,209.30) rotate(-30)">2019-01</text>
<line x1="96.15" y1="192.05" x2="96.15" y2="194.65" stroke="#262626" stroke-width="1"/>
<text class="tk" text-anchor="middle" transform="translate(97.30,209.30) rotate(-30)">2019-03</text>
<line x1="116.15" y1="192.05" x2="116.15" y2="194.65" stroke="#262626" stroke-width="1"/>
<text class="tk" text-anchor="middle" transform="translate(117.30,209.30) rotate(-30)">2019-05</text>
<line x1="136.20" y1="192.05" x2="136.20" y2="194.65" stroke="#262626" stroke-width="1"/>
<text class="tk" text-anchor="middle" transform="translate(137.35,209.30) rotate(-30)">2019-07</text>
<line x1="156.50" y1="192.05" x2="156.50" y2="194.65" stroke="#262626" stroke-width="1"/>
<text class="tk" text-anchor="middle" transform="translate(157.65,209.30) rotate(-30)">2019-09</text>
<text x="96.15" y="125.55" class="t" text-anchor="middle">iTransformer</text>
<text x="96.15" y="226.90" class="al" text-anchor="middle">Days</text>
<clipPath id="c5"><rect x="187.63" y="129.85" width="131.3" height="62.2"/></clipPath>
<g clip-path="url(#c5)">
<polyline points="193.30,184.40 197.70,184.20 202.50,184.20 207.40,183.65 212.20,183.00 217.00,182.00 221.90,181.30 226.70,179.60 231.60,178.10 238.00,176.70 241.30,175.20 244.70,172.80 247.60,169.40 251.50,164.10 255.80,161.20 258.30,155.90 260.70,161.70 263.60,160.20 265.50,162.60 268.40,168.90 270.00,172.80 271.90,176.70 273.90,179.10 277.70,180.10 281.60,180.60 286.50,182.00 292.30,182.50 298.10,183.30 303.90,183.50 312.60,184.30" fill="none" stroke="#ffa500" stroke-width="1.5" stroke-linejoin="round" stroke-linecap="square"/>
<polyline points="193.22,184.17 198.06,182.60 201.46,181.30 204.86,180.00 209.16,179.70 211.61,180.30 214.51,179.30 217.86,179.00 222.26,175.60 227.56,174.90 229.36,170.80 230.66,170.30 232.46,172.00 234.36,165.00 236.86,154.75 238.86,156.00 241.61,154.75 244.11,151.90 246.06,147.50 248.16,152.20 251.46,161.90 252.96,167.20 254.86,170.20 257.26,173.60 260.16,175.55 264.96,178.00 267.86,179.90 270.86,181.80 273.26,180.60 275.66,181.80 279.56,182.30 284.36,183.10 287.36,182.50 294.16,184.00 300.96,184.65 305.76,183.50 312.76,184.20" fill="none" stroke="#000000" stroke-width="1.5" stroke-linejoin="round" stroke-linecap="square"/>
</g>
<rect x="187.63" y="129.85" width="131.3" height="62.2" fill="none" stroke="#262626" stroke-width="1.0"/>
<line x1="185.03" y1="186.45" x2="187.63" y2="186.45" stroke="#262626" stroke-width="1"/>
<line x1="185.03" y1="170.70" x2="187.63" y2="170.70" stroke="#262626" stroke-width="1"/>
<line x1="185.03" y1="154.95" x2="187.63" y2="154.95" stroke="#262626" stroke-width="1"/>
<line x1="185.03" y1="139.20" x2="187.63" y2="139.20" stroke="#262626" stroke-width="1"/>
<line x1="193.93" y1="192.05" x2="193.93" y2="194.65" stroke="#262626" stroke-width="1"/>
<text class="tk" text-anchor="middle" transform="translate(195.08,209.30) rotate(-30)">2018-09</text>
<line x1="213.93" y1="192.05" x2="213.93" y2="194.65" stroke="#262626" stroke-width="1"/>
<text class="tk" text-anchor="middle" transform="translate(215.08,209.30) rotate(-30)">2018-11</text>
<line x1="233.93" y1="192.05" x2="233.93" y2="194.65" stroke="#262626" stroke-width="1"/>
<text class="tk" text-anchor="middle" transform="translate(235.08,209.30) rotate(-30)">2019-01</text>
<line x1="253.28" y1="192.05" x2="253.28" y2="194.65" stroke="#262626" stroke-width="1"/>
<text class="tk" text-anchor="middle" transform="translate(254.43,209.30) rotate(-30)">2019-03</text>
<line x1="273.28" y1="192.05" x2="273.28" y2="194.65" stroke="#262626" stroke-width="1"/>
<text class="tk" text-anchor="middle" transform="translate(274.43,209.30) rotate(-30)">2019-05</text>
<line x1="293.33" y1="192.05" x2="293.33" y2="194.65" stroke="#262626" stroke-width="1"/>
<text class="tk" text-anchor="middle" transform="translate(294.48,209.30) rotate(-30)">2019-07</text>
<line x1="313.63" y1="192.05" x2="313.63" y2="194.65" stroke="#262626" stroke-width="1"/>
<text class="tk" text-anchor="middle" transform="translate(314.78,209.30) rotate(-30)">2019-09</text>
<text x="253.28" y="125.55" class="t" text-anchor="middle">PatchTST</text>
<text x="253.28" y="226.90" class="al" text-anchor="middle">Days</text>
<clipPath id="c6"><rect x="344.76" y="129.85" width="131.3" height="62.2"/></clipPath>
<g clip-path="url(#c6)">
<polyline points="350.35,177.10 360.49,177.40 370.19,176.10 379.39,175.20 384.69,175.50 390.49,174.50 395.99,174.40 399.39,172.60 401.29,173.40 406.19,167.30 409.49,169.30 414.89,166.10 419.19,170.20 424.99,174.10 430.84,174.40 434.69,175.10 440.49,176.50 442.59,175.70 449.39,176.70 458.99,176.90 470.69,177.40" fill="none" stroke="#ffa500" stroke-width="1.5" stroke-linejoin="round" stroke-linecap="square"/>
<polyline points="350.35,184.17 355.19,182.60 358.59,181.30 361.99,180.00 366.29,179.70 368.74,180.30 371.64,179.30 374.99,179.00 379.39,175.60 384.69,174.90 386.49,170.80 387.79,170.30 389.59,172.00 391.49,165.00 393.99,154.75 395.99,156.00 398.74,154.75 401.24,151.90 403.19,147.50 405.29,152.20 408.59,161.90 410.09,167.20 411.99,170.20 414.39,173.60 417.29,175.55 422.09,178.00 424.99,179.90 427.99,181.80 430.39,180.60 432.79,181.80 436.69,182.30 441.49,183.10 444.49,182.50 451.29,184.00 458.09,184.65 462.89,183.50 469.89,184.20" fill="none" stroke="#000000" stroke-width="1.5" stroke-linejoin="round" stroke-linecap="square"/>
</g>
<rect x="344.76" y="129.85" width="131.3" height="62.2" fill="none" stroke="#262626" stroke-width="1.0"/>
<line x1="342.16" y1="186.45" x2="344.76" y2="186.45" stroke="#262626" stroke-width="1"/>
<line x1="342.16" y1="170.70" x2="344.76" y2="170.70" stroke="#262626" stroke-width="1"/>
<line x1="342.16" y1="154.95" x2="344.76" y2="154.95" stroke="#262626" stroke-width="1"/>
<line x1="342.16" y1="139.20" x2="344.76" y2="139.20" stroke="#262626" stroke-width="1"/>
<line x1="351.06" y1="192.05" x2="351.06" y2="194.65" stroke="#262626" stroke-width="1"/>
<text class="tk" text-anchor="middle" transform="translate(352.21,209.30) rotate(-30)">2018-09</text>
<line x1="371.06" y1="192.05" x2="371.06" y2="194.65" stroke="#262626" stroke-width="1"/>
<text class="tk" text-anchor="middle" transform="translate(372.21,209.30) rotate(-30)">2018-11</text>
<line x1="391.06" y1="192.05" x2="391.06" y2="194.65" stroke="#262626" stroke-width="1"/>
<text class="tk" text-anchor="middle" transform="translate(392.21,209.30) rotate(-30)">2019-01</text>
<line x1="410.41" y1="192.05" x2="410.41" y2="194.65" stroke="#262626" stroke-width="1"/>
<text class="tk" text-anchor="middle" transform="translate(411.56,209.30) rotate(-30)">2019-03</text>
<line x1="430.41" y1="192.05" x2="430.41" y2="194.65" stroke="#262626" stroke-width="1"/>
<text class="tk" text-anchor="middle" transform="translate(431.56,209.30) rotate(-30)">2019-05</text>
<line x1="450.46" y1="192.05" x2="450.46" y2="194.65" stroke="#262626" stroke-width="1"/>
<text class="tk" text-anchor="middle" transform="translate(451.61,209.30) rotate(-30)">2019-07</text>
<line x1="470.76" y1="192.05" x2="470.76" y2="194.65" stroke="#262626" stroke-width="1"/>
<text class="tk" text-anchor="middle" transform="translate(471.91,209.30) rotate(-30)">2019-09</text>
<text x="410.41" y="125.55" class="t" text-anchor="middle">DLinear</text>
<text x="410.41" y="226.90" class="al" text-anchor="middle">Days</text>
<clipPath id="c7"><rect x="501.89" y="129.85" width="131.3" height="62.2"/></clipPath>
<g clip-path="url(#c7)">
<polyline points="508.29,184.20 512.59,184.60 516.49,184.20 518.78,184.17 523.62,182.60 527.02,181.30 530.42,180.00 534.72,179.70 537.17,180.30 540.07,179.30 543.42,179.00 547.82,175.60 553.12,174.90 554.92,170.80 556.22,170.30 558.02,172.00 559.92,165.00 562.42,154.75 564.42,156.00 567.17,154.75 569.67,151.90 571.62,147.50 573.72,152.20 577.02,161.90 578.52,167.20 580.42,170.20 582.82,173.60 585.72,175.55 590.52,178.00 593.42,179.90 596.42,181.80 598.82,180.60 601.22,181.80 605.12,182.30 609.92,183.10 612.92,182.50 619.72,184.00 626.52,184.65" fill="none" stroke="#ffa500" stroke-width="1.5" stroke-linejoin="round" stroke-linecap="square"/>
<polyline points="507.48,184.17 512.32,182.60 515.72,181.30 519.12,180.00 523.42,179.70 525.87,180.30 528.77,179.30 532.12,179.00 536.52,175.60 541.82,174.90 543.62,170.80 544.92,170.30 546.72,172.00 548.62,165.00 551.12,154.75 553.12,156.00 555.87,154.75 558.37,151.90 560.32,147.50 562.42,152.20 565.72,161.90 567.22,167.20 569.12,170.20 571.52,173.60 574.42,175.55 579.22,178.00 582.12,179.90 585.12,181.80 587.52,180.60 589.92,181.80 593.82,182.30 598.62,183.10 601.62,182.50 608.42,184.00 615.22,184.65 620.02,183.50 627.02,184.20" fill="none" stroke="#000000" stroke-width="1.5" stroke-linejoin="round" stroke-linecap="square"/>
</g>
<rect x="501.89" y="129.85" width="131.3" height="62.2" fill="none" stroke="#262626" stroke-width="1.0"/>
<line x1="499.29" y1="186.45" x2="501.89" y2="186.45" stroke="#262626" stroke-width="1"/>
<line x1="499.29" y1="170.70" x2="501.89" y2="170.70" stroke="#262626" stroke-width="1"/>
<line x1="499.29" y1="154.95" x2="501.89" y2="154.95" stroke="#262626" stroke-width="1"/>
<line x1="499.29" y1="139.20" x2="501.89" y2="139.20" stroke="#262626" stroke-width="1"/>
<line x1="508.19" y1="192.05" x2="508.19" y2="194.65" stroke="#262626" stroke-width="1"/>
<text class="tk" text-anchor="middle" transform="translate(509.34,209.30) rotate(-30)">2018-09</text>
<line x1="528.19" y1="192.05" x2="528.19" y2="194.65" stroke="#262626" stroke-width="1"/>
<text class="tk" text-anchor="middle" transform="translate(529.34,209.30) rotate(-30)">2018-11</text>
<line x1="548.19" y1="192.05" x2="548.19" y2="194.65" stroke="#262626" stroke-width="1"/>
<text class="tk" text-anchor="middle" transform="translate(549.34,209.30) rotate(-30)">2019-01</text>
<line x1="567.54" y1="192.05" x2="567.54" y2="194.65" stroke="#262626" stroke-width="1"/>
<text class="tk" text-anchor="middle" transform="translate(568.69,209.30) rotate(-30)">2019-03</text>
<line x1="587.54" y1="192.05" x2="587.54" y2="194.65" stroke="#262626" stroke-width="1"/>
<text class="tk" text-anchor="middle" transform="translate(588.69,209.30) rotate(-30)">2019-05</text>
<line x1="607.59" y1="192.05" x2="607.59" y2="194.65" stroke="#262626" stroke-width="1"/>
<text class="tk" text-anchor="middle" transform="translate(608.74,209.30) rotate(-30)">2019-07</text>
<line x1="627.89" y1="192.05" x2="627.89" y2="194.65" stroke="#262626" stroke-width="1"/>
<text class="tk" text-anchor="middle" transform="translate(629.04,209.30) rotate(-30)">2019-09</text>
<text x="567.54" y="125.55" class="t" text-anchor="middle">Persistence</text>
<text x="567.54" y="226.90" class="al" text-anchor="middle">Days</text>
<rect x="550.6" y="1.3" width="82" height="28.1" rx="1.8" fill="#fff" stroke="#d0d0d0" stroke-width="0.8"/>
<line x1="553.7" y1="8.4" x2="573.1" y2="8.4" stroke="#ffa500" stroke-width="1.6"/>
<line x1="553.7" y1="20.7" x2="573.1" y2="20.7" stroke="#000000" stroke-width="1.7"/>
<text x="579.3" y="11.3" class="lg">Forecasts</text>
<text x="579.3" y="23.8" class="lg">Ground truth</text>
<text x="329.6" y="23.1" class="mt" text-anchor="middle">28 days ahead ILI rate forecasting, 2018/19, England (ILI-ENG)</text>
<text class="al" text-anchor="middle" transform="translate(9.2,120.4) rotate(-90)">ILI rate (per 100K people)</text>
<text x="-0.1" y="254.8" class="cap">Figure</text>
<text x="40.6" y="254.8" class="cap">2:</text>
<text x="57" y="254.8" class="cap">28</text>
<text x="76" y="254.8" class="cap">days</text>
<text x="105.5" y="254.8" class="cap">ahead</text>
<text x="142.7" y="254.8" class="cap">forecasting</text>
<text x="213.3" y="254.8" class="cap">results</text>
<text x="254.3" y="254.8" class="cap">for</text>
<text x="274.9" y="254.8" class="cap">influenza</text>
<text x="336.1" y="254.8" class="cap">season</text>
<text x="374" y="254.8" class="cap">2018/19</text>
<text x="427.5" y="254.8" class="cap">in</text>
<text x="440.9" y="254.8" class="cap">England</text>
<text x="494" y="254.8" class="cap">(ILI-ENG)</text>
<text x="559.2" y="254.8" class="cap">for</text>
<text x="580.6" y="254.8" class="cap">all</text>
<text x="599.7" y="254.8" class="cap">models</text>
</svg>
</body></html>
